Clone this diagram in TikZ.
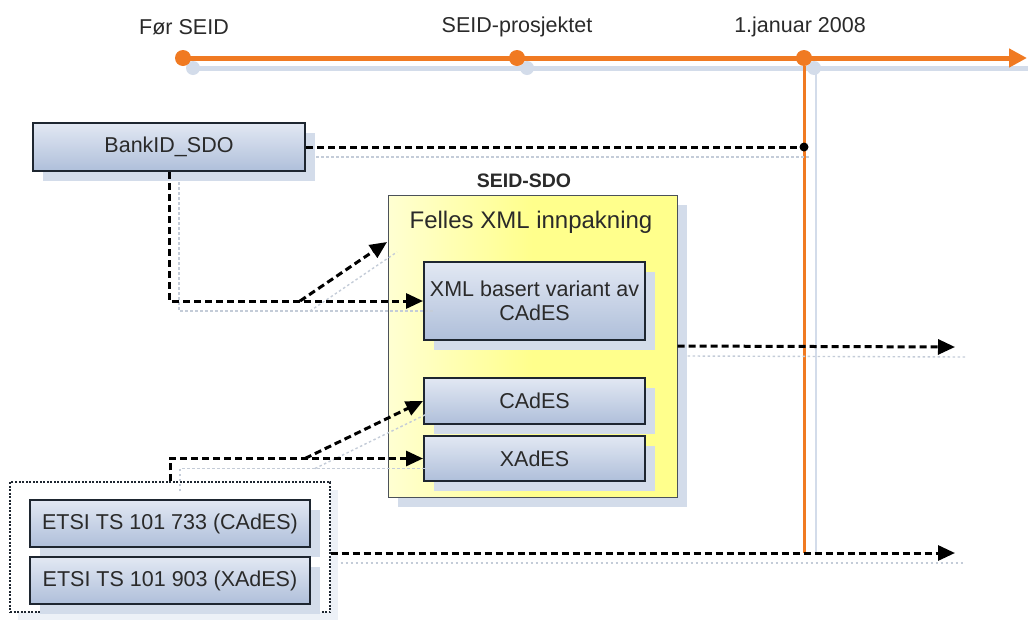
\documentclass[tikz,border=0pt]{standalone}
\usepackage{fontspec}
\setmainfont{Liberation Sans}
\usetikzlibrary{arrows.meta,shadows,calc}
\definecolor{orng}{HTML}{F07A22}
\definecolor{shd}{HTML}{D3DCEA}
\definecolor{shdl}{HTML}{C4CCD8}
\definecolor{txt}{HTML}{2A2A2A}
\definecolor{boxtop}{HTML}{E2E8F3}
\definecolor{boxbot}{HTML}{AFBFDA}
\definecolor{yl}{HTML}{FFFF8C}
\definecolor{yll}{HTML}{FFFFD2}
\definecolor{edge}{HTML}{1E2630}
\begin{document}
\begin{tikzpicture}[x=1pt,y=-1pt,
  txtfont/.style={font=\fontsize{21.5}{24}\selectfont, text=txt},
  bluebox/.style={draw=edge, line width=2pt, top color=boxtop, bottom color=boxbot,
     inner sep=0pt, align=center, txtfont,
     drop shadow={shadow xshift=10pt, shadow yshift=-10pt, fill=shd, opacity=1}},
  ybox/.style={draw=edge!80, line width=1pt, left color=yll, right color=yl,
     middle color=yl, inner sep=0pt,
     drop shadow={shadow xshift=10pt, shadow yshift=-10pt, fill=shd, opacity=1}},
  grpbox/.style={draw=edge, line width=1.3pt, dash pattern=on 2pt off 1.5pt, fill=white, inner sep=0pt,
     drop shadow={shadow xshift=8pt, shadow yshift=-8pt, fill=shd!40, opacity=1}},
  conn/.style={draw=black, line width=3pt, dash pattern=on 7pt off 4pt},
  arr/.style={-{Triangle[length=17pt,width=15pt]}},
  shconn/.style={draw=shdl, line width=1.4pt, dash pattern=on 2.5pt off 2.5pt,
     transform canvas={shift={(10pt,-10pt)}}},
  tdot/.style={circle, fill=orng, minimum size=16pt, inner sep=0pt},
  tdotsh/.style={circle, fill=shd, minimum size=14pt, inner sep=0pt},
  lbl/.style={txtfont}
]
\useasboundingbox (0,0) rectangle (1028,619);

% timeline
\coordinate (t0) at (183,58);
\coordinate (t1) at (517,58);
\coordinate (t2) at (804,58);
\coordinate (tend) at (1027,58);
\coordinate (e1) at (955,347);
\coordinate (e2) at (955,553);

\draw[shd, line width=5pt, transform canvas={shift={(10pt,-10pt)}}] (t0) -- (tend);
\node[tdotsh] (s0) at ($(t0)+(10,10)$) {};
\node[tdotsh] (s1) at ($(t1)+(10,10)$) {};
\node[tdotsh] (s2) at ($(t2)+(10,10)$) {};
\draw[orng, line width=5pt, -{Triangle[length=18pt,width=18pt]}] (t0) -- (tend);
\node[tdot] (d0) at (t0) {};
\node[tdot] (d1) at (t1) {};
\node[tdot] (d2) at (t2) {};

\node[lbl] (l0) at (184,27) {Før SEID};
\node[lbl] (l1) at (517,27) {SEID-prosjektet};
\node[lbl] (l2) at (800,27) {1.januar 2008};

% vertical line
\draw[shd, line width=2.5pt] ($(d2)+(12,10)$) -- ($(d2 |- e2)+(12,0)$);
\draw[orng, line width=3pt] (d2) -- (d2 |- e2);

% boxes
\node[bluebox, minimum width=272pt, minimum height=48pt] (bank) at (169,147) {BankID\_SDO};

\node[font=\bfseries\fontsize{19.5}{22}\selectfont, text=txt] (sdolbl) at (524,181) {SEID-SDO};
\node[ybox, minimum width=289pt, minimum height=302pt] (seid) at (532.5,346) {};
\node[txtfont, font=\fontsize{24}{27}\selectfont] (felles) at (531,222) {Felles XML innpakning};
\node[bluebox, minimum width=221pt, minimum height=78pt] (xmlv) at (534.5,301) {XML basert variant av\\CAdES};
\node[bluebox, minimum width=221pt, minimum height=46pt] (cades) at (534.5,401) {CAdES};
\node[bluebox, minimum width=221pt, minimum height=45pt] (xades) at (534.5,458.5) {XAdES};

\node[grpbox, minimum width=320pt, minimum height=130pt] (grp) at (170,547) {};
\node[bluebox, minimum width=280pt, minimum height=47pt] (etsi1) at (170,523.5) {ETSI TS 101 733 (CAdES)};
\node[bluebox, minimum width=280pt, minimum height=47pt] (etsi2) at (170,580.5) {ETSI TS 101 903 (XAdES)};

% junction dot
\node[circle, fill=black, minimum size=9pt, inner sep=0pt] (jd) at (d2 |- bank.east) {};

% connector coordinates
\coordinate (b1) at (300,301);
\coordinate (t1a) at (387,242);
\coordinate (b2) at (305,458.5);

% shadows of connectors
\draw[shconn] (bank.east) -- (jd);
\draw[shconn] (bank.south) |- (xmlv.west);
\draw[shconn] (b1) -- (t1a);
\draw[shconn] (seid.east) -- (e1);
\draw[shconn] (grp.north) |- (xades.west);
\draw[shconn] (b2) -- (cades.west);
\draw[shconn] (grp.east |- e2) -- (e2);

% connectors
\draw[conn] (bank.east) -- (jd);
\draw[conn, arr] (bank.south) |- (xmlv.west);
\draw[conn, arr] (b1) -- (t1a);
\draw[conn, arr] (seid.east) -- (e1);
\draw[conn, arr] (grp.north) |- (xades.west);
\draw[conn, arr] (b2) -- (cades.west);
\draw[conn, arr] (grp.east |- e2) -- (e2);
\end{tikzpicture}
\end{document}
